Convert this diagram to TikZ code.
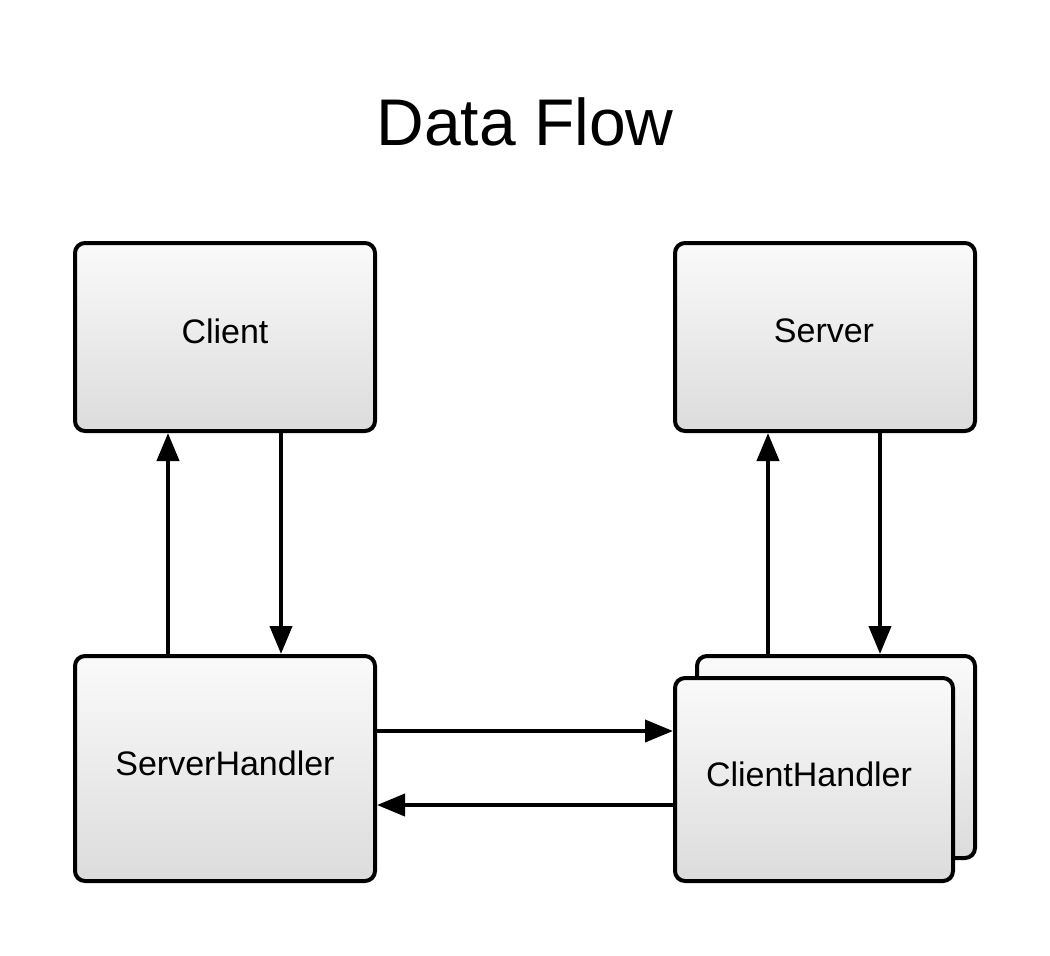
\documentclass[tikz,border=0pt]{standalone}
\usepackage{fontspec}
\setmainfont{Liberation Sans}
\usetikzlibrary{arrows.meta}
\definecolor{boxtop}{HTML}{FAFAFA}
\definecolor{boxbottom}{HTML}{DCDCDC}
\tikzset{
  box/.style={draw=black,line width=4pt,rounded corners=10pt,top color=boxtop,bottom color=boxbottom,
    minimum width=300pt,minimum height=188pt,inner sep=0pt},
  boxtext/.style={font=\fontsize{34}{40}\selectfont},
  flow/.style={line width=4pt,-{Triangle[length=28pt,width=22pt]}}
}
\begin{document}
\begin{tikzpicture}[x=1pt,y=-1pt]
    \useasboundingbox[fill=white] (0,0) rectangle (1050,956);
    \node (title) at (525,122) {\fontsize{66}{74}\selectfont Data Flow};
    \node[box] (client) at (225,337) {};
    \node[box] (server) at (825,337) {};
    \node[box,minimum height=225pt] (shandler) at (225,768.5) {};
    \node[box,minimum width=278pt,minimum height=202pt] (chback) at (836,757) {};
    \node[box,minimum width=278pt,minimum height=203pt] (chfront) at (814,779.5) {};
    \node[boxtext] (clientlbl) at (225,331) {Client};
    \node[boxtext] (serverlbl) at (824,331) {Server};
    \node[boxtext] (shandlerlbl) at (225,763) {ServerHandler};
    \node[boxtext] (chfrontlbl) at (809,774) {ClientHandler};
    \draw[flow] ([xshift=-57pt]shandler.north) -- ([xshift=-57pt]client.south);
    \draw[flow] ([xshift=56pt]client.south) -- ([xshift=56pt]shandler.north);
    \draw[flow] ([xshift=-57pt]server.south |- chback.north) -- ([xshift=-57pt]server.south);
    \draw[flow] ([xshift=55pt]server.south) -- ([xshift=55pt]server.south |- chback.north);
    \draw[flow] ([yshift=37.5pt]shandler.east) -- ([yshift=37.5pt]shandler.east -| chfront.west);
    \draw[flow] ([yshift=-36.5pt]shandler.east -| chfront.west) -- ([yshift=-36.5pt]shandler.east);
  \end{tikzpicture}
\end{document}
